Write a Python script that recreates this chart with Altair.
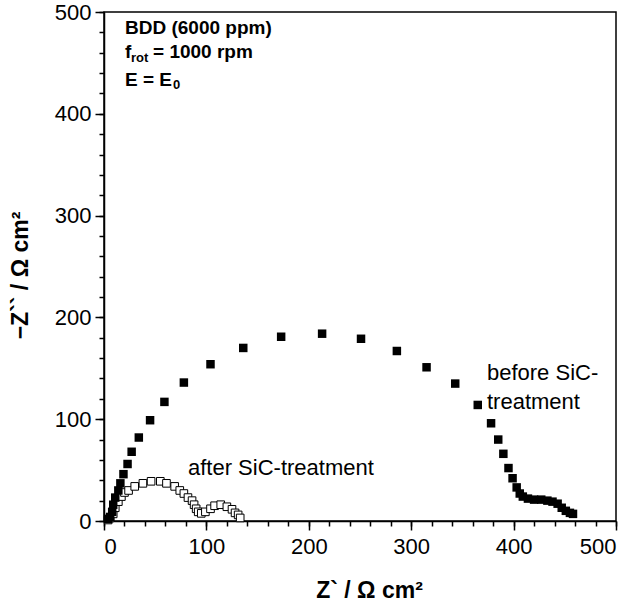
import altair as alt
import pandas as pd

# before SiC-treatment (filled squares)
before_x = [4, 6, 8, 9, 11, 14, 16, 19, 23, 27, 34, 45, 59, 78, 104, 136, 173, 213, 251, 286,
            315, 343, 365, 378, 385, 390, 395, 399, 403, 406, 409, 414, 420, 427, 433, 438,
            443, 447, 451, 455, 458]
before_y = [2, 4, 9, 16, 23, 30, 37, 46, 56, 68, 82, 99, 117, 136, 154, 170, 181, 184, 179, 167,
            151, 135, 114, 96, 80, 66, 52, 42, 33, 27, 24, 22, 21, 21, 20, 19,
            17, 13, 10, 8, 7]

# after SiC-treatment (open squares)
after_x = [4, 6, 9, 11, 14, 17, 20, 24, 30, 38, 46, 55, 61, 69, 74, 78, 82, 86, 88, 90, 92,
           95, 99, 104, 108, 114, 120, 125, 128, 131, 133]
after_y = [1, 3, 7, 13, 19, 24, 28, 30, 34, 37, 39, 39, 37, 34, 30, 27, 23, 20, 16, 12, 9,
           7.5, 9, 12, 15, 16, 14, 11.5, 8, 6, 3]

# annotations
bold_text = ["BDD (6000 ppm)", "f", "rot", "= 1000 rpm", "E = E", "0"]
bold_x = [20.5, 20.5, 26.4, 47.9, 20.5, 67.4]
bold_y = [478.4, 454.8, 450.9, 454.8, 427.3, 424.4]
bold_size = [19, 19, 13, 19, 19, 13]

label_text = ["after SiC-treatment", "before  SiC-", "treatment"]
label_x = [82, 374, 374]
label_y = [45.2, 138.5, 110]

major_ticks = [0, 100, 200, 300, 400, 500]
minor_ticks = list(range(0, 501, 20))

FONT = "Liberation Sans"

df_b = pd.DataFrame({"x": before_x, "y": before_y})
df_a = pd.DataFrame({"x": after_x, "y": after_y})
df_bt = pd.DataFrame({"x": bold_x, "y": bold_y, "t": bold_text, "s": bold_size})
df_lt = pd.DataFrame({"x": label_x, "y": label_y, "t": label_text})

xscale = alt.Scale(domain=[0, 500], nice=False, zero=False)
yscale = alt.Scale(domain=[0, 500], nice=False, zero=False)

xaxis_major = alt.Axis(orient="bottom", values=major_ticks, tickSize=9, grid=False,
                       labelOverlap=False, title="Z` / Ω cm²",
                       titleX=265, titleY=76, titleBaseline="alphabetic",
                       labelPadding=6, labelFontSize=22)
yaxis_major = alt.Axis(orient="left", values=major_ticks, tickSize=9, grid=False,
                       labelOverlap=False, title="−Z`` / Ω cm²",
                       titleX=-77, titleY=263, titleBaseline="alphabetic", titleAngle=270,
                       labelPadding=4, labelFontSize=22)
xaxis_minor = alt.Axis(orient="bottom", values=minor_ticks, tickSize=5, grid=False,
                       labels=False, domain=False, title=None)
yaxis_minor = alt.Axis(orient="left", values=minor_ticks, tickSize=5, grid=False,
                       labels=False, domain=False, title=None)

after = alt.Chart(df_a).mark_point(shape="square", filled=True, fill="white",
                                   stroke="black", strokeWidth=1, size=58, opacity=1).encode(
    x=alt.X("x:Q", scale=xscale, axis=xaxis_major),
    y=alt.Y("y:Q", scale=yscale, axis=yaxis_major),
)
before = alt.Chart(df_b).mark_point(shape="square", filled=True, color="black",
                                    size=72, opacity=1).encode(
    x=alt.X("x:Q", scale=xscale, axis=xaxis_minor),
    y=alt.Y("y:Q", scale=yscale, axis=yaxis_minor),
)
btxt = alt.Chart(df_bt).mark_text(align="left", baseline="alphabetic", font=FONT,
                                  fontWeight="bold", color="black").encode(
    x=alt.X("x:Q", scale=xscale, axis=None),
    y=alt.Y("y:Q", scale=yscale, axis=None),
    text="t:N",
    size=alt.Size("s:Q", scale=None),
)
ltxt = alt.Chart(df_lt).mark_text(align="left", baseline="alphabetic", font=FONT,
                                  fontSize=22, color="black").encode(
    x=alt.X("x:Q", scale=xscale, axis=None),
    y=alt.Y("y:Q", scale=yscale, axis=None),
    text="t:N",
)

chart = alt.layer(after, before, btxt, ltxt).resolve_axis(
    x="independent", y="independent"
).properties(
    width=512, height=509,
    autosize=alt.AutoSizeParams(type="none"),
    padding={"left": 104, "top": 12, "right": 21, "bottom": 84},
    background="white",
).configure_view(stroke="black", strokeWidth=1.5).configure_axis(
    domainColor="black", domainWidth=1.5, tickColor="black", tickWidth=1.5,
    labelFont=FONT, labelColor="black", titleFont=FONT, titleFontSize=23,
    titleFontWeight="bold", titleColor="black",
)

chart.save("out.html", embed_options={"renderer": "svg", "actions": False})
